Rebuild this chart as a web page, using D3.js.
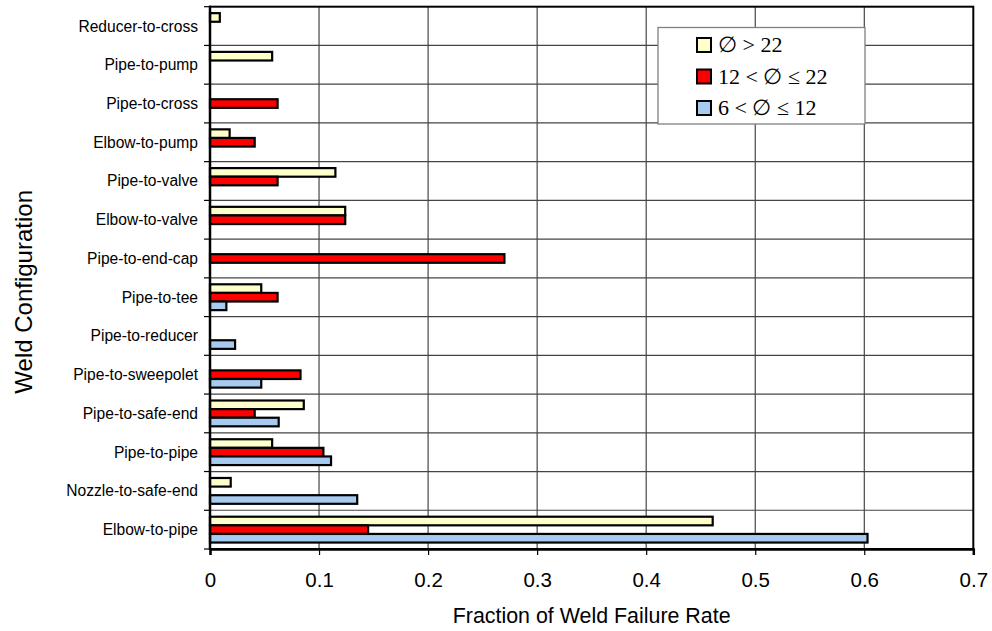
<!DOCTYPE html>
<html>
<head>
<meta charset="utf-8">
<script src="https://cdn.jsdelivr.net/npm/d3@7"></script>
<style>
html,body{margin:0;padding:0;background:#fff;}
svg{display:block;}
</style>
</head>
<body>
<svg id="chart" width="992" height="631"></svg>
<script>
const categories = ["Reducer-to-cross","Pipe-to-pump","Pipe-to-cross","Elbow-to-pump","Pipe-to-valve","Elbow-to-valve","Pipe-to-end-cap","Pipe-to-tee","Pipe-to-reducer","Pipe-to-sweepolet","Pipe-to-safe-end","Pipe-to-pipe","Nozzle-to-safe-end","Elbow-to-pipe"];
const seriesNames = ["\u2205 > 22", "12 < \u2205 \u2264 22", "6 < \u2205 \u2264 12"];
const seriesColors = ["#FFFFCC", "#FF0000", "#A6CAF0"];
const over22 = [0.009,0.057,0,0.018,0.115,0.124,0,0.047,0,0,0.086,0.057,0.019,0.461];
const from12to22 = [0,0,0.062,0.041,0.062,0.124,0.270,0.062,0,0.083,0.041,0.104,0,0.145];
const from6to12 = [0,0,0,0,0,0,0,0.015,0.023,0.047,0.063,0.111,0.135,0.603];
const xTicks = [0,0.1,0.2,0.3,0.4,0.5,0.6,0.7];
const xTitle = "Fraction of Weld Failure Rate";
const yTitle = "Weld Configuration";

const seriesValues = [over22, from12to22, from6to12];
const W = 992, H = 631;
const m = {left:210, right:18.7, top:6.7, bottom:82};
const svg = d3.select("#chart");
const sans = "Liberation Sans, Arial, sans-serif";

const x = d3.scaleLinear().domain([0,0.7]).range([m.left, W - m.right]);
const y0 = d3.scaleBand().domain(categories).range([m.top, H - m.bottom]).padding(0);
const y1 = d3.scaleBand().domain(d3.range(seriesNames.length)).range([0, y0.bandwidth()]).paddingInner(0).paddingOuter(0.75);

// vertical gridlines
svg.append("g").selectAll("line").data(xTicks.slice(1, -1)).join("line")
  .attr("x1", d => x(d)).attr("x2", d => x(d))
  .attr("y1", m.top).attr("y2", H - m.bottom)
  .attr("stroke", "#222").attr("stroke-width", 1);

// horizontal gridlines at band boundaries
svg.append("g").selectAll("line").data(categories.slice(1)).join("line")
  .attr("x1", m.left).attr("x2", W - m.right)
  .attr("y1", d => y0(d)).attr("y2", d => y0(d))
  .attr("stroke", "#444").attr("stroke-width", 1.2);

// bars
const rows = [];
categories.forEach((c, i) => {
  seriesValues.forEach((vals, s) => {
    if (vals[i] > 0) rows.push({c, s, v: vals[i]});
  });
});
svg.append("g").selectAll("rect").data(rows).join("rect")
  .attr("x", x(0))
  .attr("y", d => y0(d.c) + y1(d.s))
  .attr("width", d => x(d.v) - x(0))
  .attr("height", y1.bandwidth())
  .attr("fill", d => seriesColors[d.s])
  .attr("stroke", "#000").attr("stroke-width", 2.2);

// plot border (top/right)
svg.append("rect")
  .attr("x", m.left).attr("y", m.top)
  .attr("width", W - m.right - m.left).attr("height", H - m.bottom - m.top)
  .attr("fill", "none").attr("stroke", "#000").attr("stroke-width", 2);

// x axis
const xAxis = svg.append("g").attr("transform", `translate(0,${H - m.bottom})`)
  .call(d3.axisBottom(x).tickValues(xTicks).tickFormat(d => d === 0 ? "0" : d3.format(".1f")(d)).tickSize(6));
xAxis.select(".domain").attr("stroke", "#000").attr("stroke-width", 2.5);
xAxis.selectAll(".tick line").attr("stroke", "#000").attr("stroke-width", 1.2);
xAxis.selectAll(".tick text").attr("y", 38).attr("dy", 0)
  .attr("font-family", sans).attr("font-size", 20.5).attr("fill", "#000");

// y axis (ticks at band boundaries)
const boundaries = categories.map(c => y0(c)).concat([H - m.bottom]);
svg.append("g").selectAll("line").data(boundaries).join("line")
  .attr("x1", m.left - 6).attr("x2", m.left)
  .attr("y1", d => d).attr("y2", d => d)
  .attr("stroke", "#000").attr("stroke-width", 1.2);
svg.append("line")
  .attr("x1", m.left).attr("x2", m.left)
  .attr("y1", m.top - 1).attr("y2", H - m.bottom + 1)
  .attr("stroke", "#000").attr("stroke-width", 2.5);
svg.append("g").selectAll("text").data(categories).join("text")
  .attr("x", m.left - 12)
  .attr("y", d => y0(d) + y0.bandwidth() / 2)
  .attr("dy", "0.35em")
  .attr("text-anchor", "end")
  .attr("font-family", sans)
  .attr("font-size", 15.6)
  .attr("fill", "#000")
  .text(d => d);

// axis titles
svg.append("text")
  .attr("x", (m.left + W - m.right) / 2).attr("y", 623)
  .attr("text-anchor", "middle")
  .attr("font-family", sans)
  .attr("font-size", 21.4).attr("fill", "#000")
  .text(xTitle);
svg.append("text")
  .attr("transform", `translate(32,${(m.top + H - m.bottom) / 2 + 14}) rotate(-90)`)
  .attr("text-anchor", "middle")
  .attr("font-family", sans)
  .attr("font-size", 24).attr("fill", "#000")
  .text(yTitle);

// legend
const lg = svg.append("g");
lg.append("rect").attr("x", 658).attr("y", 27.5).attr("width", 207).attr("height", 96.5)
  .attr("fill", "#fff").attr("stroke", "#808080").attr("stroke-width", 1.3);
const ly = d3.scalePoint().domain(d3.range(seriesNames.length)).range([45, 108]);
seriesNames.forEach((n, i) => {
  lg.append("rect").attr("x", 697).attr("y", ly(i) - 7).attr("width", 14).attr("height", 14)
    .attr("fill", seriesColors[i]).attr("stroke", "#000").attr("stroke-width", 2);
  lg.append("text").attr("x", 718).attr("y", ly(i)).attr("dy", "0.34em")
    .attr("font-family", "Liberation Serif, Times New Roman, serif")
    .attr("font-size", 22).attr("fill", "#000")
    .text(n);
});
</script>
</body>
</html>
